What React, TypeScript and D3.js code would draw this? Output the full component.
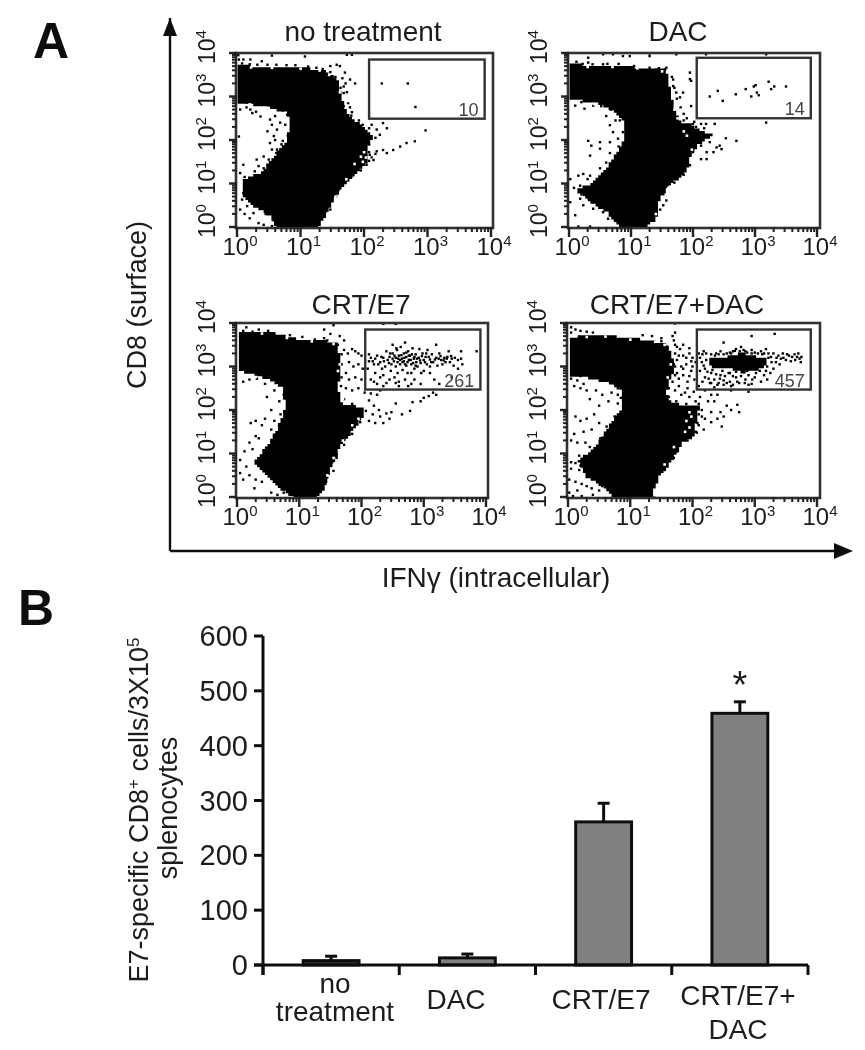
import React from "react";
import * as d3 from "d3";

type P = [number, number];

// ---------- Panel A: values are [log10 IFNγ, log10 CD8] ----------
const panelTitles = ["no treatment", "DAC", "CRT/E7", "CRT/E7+DAC"];
const gateCounts = ["10", "14", "261", "457"];
const gateBounds: [number, number, number, number][] = [
  [2.08, 3.9, 2.49, 3.85],
  [2.06, 3.9, 2.5, 3.89],
  [2.06, 3.91, 2.47, 3.85],
  [2.07, 3.9, 2.47, 3.85],
];
const logTicks = [1, 10, 100, 1000, 10000];
const tickExponents = ["0", "1", "2", "3", "4"];

const blobNoTreatment: P[] = [[0.01,3.73],[0.31,3.69],[0.68,3.69],[1.05,3.66],[1.41,3.58],[1.6,3.35],[1.65,3],[1.73,2.62],[1.88,2.43],[2.04,2.24],[2.15,2.08],[2.04,1.78],[2.04,1.47],[1.88,1.24],[1.68,0.97],[1.52,0.63],[1.41,0.25],[1.26,-0.02],[0.63,-0.02],[0.52,0.25],[0.26,0.48],[0.1,0.7],[0.08,1.09],[0.37,1.24],[0.58,1.62],[0.76,1.93],[0.84,2.31],[0.79,2.62],[0.42,2.77],[0.01,2.85]];
const blobDac: P[] = [[0.01,3.76],[0.45,3.7],[0.93,3.72],[1.2,3.63],[1.57,3.61],[1.62,3.27],[1.68,2.81],[1.79,2.42],[1.95,2.38],[2.11,2.23],[2.32,2.11],[2.08,1.88],[1.97,1.65],[1.89,1.26],[1.62,0.95],[1.46,0.65],[1.41,0.19],[1.25,-0.02],[0.82,-0.02],[0.61,0.34],[0.34,0.57],[0.12,0.84],[0.34,0.99],[0.55,1.26],[0.71,1.56],[0.87,1.95],[0.9,2.39],[0.76,2.62],[0.44,2.85],[0.01,2.93]];
const blobCrt: P[] = [[0.03,3.79],[0.53,3.79],[0.96,3.64],[1.6,3.56],[1.66,3.21],[1.63,2.47],[1.68,2.16],[2.03,2.04],[2.05,1.89],[1.87,1.54],[1.66,1.16],[1.5,0.63],[1.39,0.17],[1.28,-0.02],[0.91,-0.02],[0.64,0.24],[0.43,0.55],[0.27,0.82],[0.48,1.16],[0.64,1.54],[0.78,2.08],[0.72,2.53],[0.48,2.72],[0.08,2.88],[0.03,2.88]];
const blobCrtDac: P[] = [[0.03,3.68],[0.56,3.72],[1.1,3.64],[1.58,3.53],[1.68,3.21],[1.71,2.91],[1.63,2.69],[1.58,2.38],[1.68,2.15],[2.11,2.08],[2.06,1.77],[2.03,1.39],[1.84,1.24],[1.68,0.85],[1.47,0.47],[1.36,0.09],[1.42,-0.02],[0.72,-0.02],[0.61,0.18],[0.29,0.47],[0.16,0.85],[0.4,1.08],[0.61,1.54],[0.88,2.08],[0.88,2.46],[0.67,2.61],[0.35,2.73],[0.03,2.76]];
const denseGateCrtDac: P[] = [[2.27,3.2],[2.54,3.22],[2.8,3.32],[3.2,3.16],[3.14,2.95],[2.8,2.85],[2.54,2.98],[2.3,2.98]];

const eventsNoTreatment: P[] = [[2.28,3.3],[2.69,3.3],[2.81,2.76],[2.97,2.22],[2.8,1.97],[2.67,1.93],[2.57,1.85],[2.46,1.77],[2.36,1.7],[2.3,1.77],[2.2,1.74],[2.09,1.66],[2.15,1.54],[2.04,1.43],[2.12,1.6],[2.18,1.68],[1.68,3.23],[1.78,3.39],[1.86,3.3],[1.57,3.73],[1.47,3.7],[1.62,3.7],[1.7,3.55],[1.66,3.42],[1.73,3.1],[1.71,3.3],[1.73,3.96],[1.81,3.96],[1.07,3.92],[0.55,3.94],[0.39,3.81],[0.21,3.85],[0.1,3.85],[0.02,3.95],[0.03,3.85],[2.3,2.39],[2.36,2.27],[2.2,2.24],[2.25,2.12],[2.12,2.35],[0.24,2.62],[0.37,2.54],[0.52,2.47],[0.63,2.24],[0.58,2.09],[0.52,1.93],[0.63,1.78],[0.42,1.62],[0.31,1.55],[0.34,1.4],[0.1,1.43],[0.05,1.24],[0.05,2.7],[0.03,2.08],[0.21,2.7],[0.79,2.58],[0.76,2.35],[0.94,2.12],[0.79,1.7],[0.08,0.63],[0.16,0.48],[0.26,0.32],[0.34,0.09],[0.47,0.4],[0.73,0.28],[1.28,0.09],[1.47,0.4],[1.78,2.75],[1.81,2.64],[1.68,2.78],[1.96,1.74],[2.01,1.62],[1.93,1.55],[0.6,2.55],[0.68,2.4],[0.55,2.35],[0.48,2.2],[0.6,2.0],[0.55,1.78],[0.7,1.9],[0.3,2.65],[0.15,2.75],[0.05,0.4],[0.12,0.3],[0.2,0.2],[0.42,0.05],[0.55,0.02],[0.08,3.76],[0.2,3.74],[0.32,3.73],[0.48,3.73],[0.62,3.73],[0.78,3.72],[0.92,3.72],[1.12,3.69],[1.25,3.66],[1.35,3.63],[1.47,3.56],[1.55,3.45],[1.63,3.2],[1.68,3.08],[1.75,2.85],[1.8,2.56],[1.92,2.45],[1.98,2.35],[2.08,2.27],[2.18,2.05],[2.08,1.9],[2.08,1.72],[2.08,1.52],[1.95,1.3],[1.8,1.15],[1.6,0.85],[1.56,0.7],[1.45,0.5],[0.1,0.78],[0.2,0.62],[0.3,0.5],[0.45,0.3],[0.58,0.15],[0.12,1.15],[0.28,1.28],[0.42,1.35],[0.5,1.55],[0.62,1.7],[0.72,1.98],[0.8,2.1],[0.86,2.4],[0.72,2.68],[0.5,2.78],[0.33,2.82],[0.15,2.86]];
const eventsDac: P[] = [[2.27,3],[2.4,3.13],[2.48,2.9],[2.69,3.05],[2.85,3.17],[2.94,3],[2.98,3.23],[3.03,3.09],[3.06,3.03],[3.22,3.34],[3.26,3.17],[3.31,3.23],[3.5,3.23],[3.01,3.26],[2.7,1.98],[2.53,2.04],[3.18,2.4],[2.35,2.37],[2.21,2.37],[2.13,2.37],[2,2.37],[1.95,3.4],[1.97,3.36],[1.95,3.55],[1.97,2.78],[1.73,3.09],[1.84,3.09],[1.79,2.98],[1.68,3.24],[1.68,3.39],[1.57,3.66],[1.55,3.62],[1.41,3.62],[0.55,3.97],[0.71,3.97],[0.31,3.89],[0.87,3.93],[0.98,3.93],[1.3,3.93],[1.3,3.99],[1.73,3.97],[2.21,3.97],[3.18,3.97],[0.31,3.78],[0.55,3.74],[0.31,1.98],[0.36,1.87],[0.34,1.64],[0.5,1.95],[0.5,1.8],[0.66,1.95],[0.66,2.34],[0.71,2.18],[0.79,2.03],[0.87,2.18],[1,2.37],[0.39,2.79],[0.1,2.79],[0.2,2.87],[0.23,1.22],[0.15,1.18],[0.34,1.18],[0.02,1.1],[0.02,0.57],[0.18,0.65],[0.1,0.27],[0.23,0.5],[0.39,0.42],[0.55,0.34],[0.63,0.19],[0.15,0.01],[0.34,0.01],[0.93,0.11],[1.57,0.61],[1.52,0.5],[1.41,0.38],[2.22,1.72],[2.33,1.72],[2.13,1.87],[2.43,1.87],[2.27,1.95],[2.38,1.83],[2.46,1.79],[2.22,1.56],[2.13,1.56],[1.85,2.6],[1.9,2.5],[2.05,2.3],[0.6,2.55],[0.75,2.45],[0.25,2.72],[0.12,3.8],[0.22,3.75],[0.38,3.74],[0.62,3.75],[0.8,3.75],[1.05,3.7],[1.3,3.66],[1.45,3.65],[1.66,3.45],[1.7,3.2],[1.74,2.95],[1.8,2.75],[1.85,2.45],[1.88,2.3],[2.02,2.42],[2.18,2.27],[2.12,2.06],[2,1.72],[1.95,1.42],[1.85,1.2],[1.7,1.02],[1.52,0.75],[1.47,0.4],[0.08,0.9],[0.2,0.75],[0.32,0.65],[0.48,0.5],[0.18,0.95],[0.3,1.1],[0.5,1.35],[0.6,1.48],[0.66,1.7],[0.8,1.85],[0.82,2.45],[0.68,2.7],[0.52,2.78],[0.32,2.92]];
const eventsCrt: P[] = [[2.2,3.05],[2.25,3.25],[2.3,3.1],[2.33,2.95],[2.35,3.2],[2.38,3.0],[2.4,3.35],[2.42,3.15],[2.45,3.22],[2.47,2.9],[2.48,3.05],[2.5,3.3],[2.5,3.5],[2.52,3.12],[2.53,2.75],[2.55,3.2],[2.55,3.0],[2.57,3.38],[2.58,3.1],[2.6,3.25],[2.6,2.65],[2.62,3.05],[2.63,3.45],[2.65,3.18],[2.66,2.92],[2.68,3.3],[2.68,3.12],[2.7,3.55],[2.72,3.22],[2.72,3.02],[2.74,2.85],[2.75,3.35],[2.76,3.15],[2.78,3.25],[2.8,3.05],[2.8,2.6],[2.82,3.42],[2.84,3.18],[2.85,2.95],[2.87,3.28],[2.88,3.1],[2.9,3.0],[2.92,3.2],[2.93,3.4],[2.95,3.08],[2.96,2.85],[2.98,3.3],[3.0,3.15],[3.0,2.9],[3.03,3.22],[3.05,3.05],[3.06,3.38],[3.1,3.16],[3.1,3],[3.13,3.28],[3.15,3.1],[3.17,2.7],[3.2,3.2],[3.2,3.5],[3.22,3.02],[3.25,3.3],[3.28,3.15],[3.3,3.05],[3.33,3.2],[3.35,3.1],[3.38,3.22],[3.4,3.35],[3.42,3.1],[3.45,3.18],[3.48,3.02],[3.5,3.2],[3.55,3.15],[3.6,3.18],[3.62,3.05],[3.6,3.35],[3.85,3.35],[2.12,3.12],[2.1,2.95],[2.15,3.2],[2.15,2.7],[2.22,2.85],[2.3,2.75],[2.25,2.6],[2.45,2.7],[2.7,2.7],[2.85,2.7],[2.35,2.55],[2.6,2.55],[1.72,3.38],[1.78,3.3],[1.85,3.4],[1.9,3.35],[1.95,3.3],[2.0,3.25],[1.8,3.1],[1.87,3.0],[1.95,3.05],[2.02,2.95],[1.75,2.85],[1.8,2.7],[1.9,2.75],[2.0,2.7],[1.75,2.5],[1.85,2.45],[1.95,2.5],[2.05,2.4],[2.15,2.38],[2.25,2.35],[2.3,2.45],[2.12,2.22],[2.2,2.1],[2.28,2.0],[2.18,1.9],[2.3,1.85],[2.4,1.92],[2.45,1.8],[2.12,1.75],[2.22,1.7],[2.35,1.7],[2.48,1.95],[2.55,2.15],[2.65,1.9],[2.78,1.98],[2.82,2.18],[2.95,2.2],[3.0,2.28],[3.08,2.32],[3.15,2.4],[3.2,2.35],[1.65,3.7],[1.5,3.75],[1.4,3.65],[1.55,3.95],[2.35,3.98],[2.55,3.98],[1.4,3.85],[0.15,3.9],[0.25,3.8],[0.5,3.82],[0.85,3.72],[1.72,3.6],[0.1,2.65],[0.2,2.7],[0.32,2.72],[0.45,2.6],[0.62,2.62],[0.8,2.62],[0.75,2.35],[0.6,2.45],[0.48,2.3],[0.68,2.2],[0.55,2.0],[0.45,1.8],[0.6,1.75],[0.7,1.9],[0.4,1.65],[0.3,1.75],[0.22,1.7],[0.55,1.55],[0.3,1.4],[0.2,1.25],[0.25,1.1],[0.35,1.35],[0.12,1.05],[0.05,0.85],[0.15,0.7],[0.05,0.55],[0.2,0.5],[0.3,0.4],[0.1,0.4],[0.4,0.35],[0.28,0.2],[0.55,0.1],[0.65,0.05],[0.75,0.1],[1.42,0.3],[1.55,0.6],[1.6,0.9],
[2.12,3.28],[2.18,3.12],[2.22,3.18],[2.27,3.05],[2.32,3.22],[2.36,3.12],[2.44,3.08],[2.46,3.3],[2.5,3.18],[2.53,3.25],[2.56,3.42],[2.59,3.18],[2.62,3.15],[2.64,3.26],[2.66,3.1],[2.69,3.2],[2.7,3.05],[2.72,3.32],[2.74,3.1],[2.76,3.25],[2.79,3.15],[2.81,3.28],[2.83,3.08],[2.85,3.22],[2.87,3.02],[2.89,3.18],[2.94,3.14],[2.97,3.24],[3.02,3.1],[3.04,3.3],[3.08,3.22],[3.12,3.1],[3.18,3.16],[3.24,3.18],[3.27,3.24],[3.32,3.14],[3.37,3.18],[3.44,3.24],[2.2,2.65],[2.4,2.62],[2.55,2.62],[2.75,2.55],[2.95,2.6],[3.25,2.6],[3.45,2.75],[3.55,2.95],[2.35,2.8],[2.58,2.85],[2.8,2.85],[3.1,2.85],
[0.1,3.82],[0.35,3.85],[0.6,3.75],[0.72,3.7],[1.05,3.68],[1.25,3.62],[1.45,3.6],[1.62,3.5],[1.68,3.28],[1.68,3.05],[1.68,2.75],[1.67,2.55],[1.72,2.25],[1.85,2.14],[2.07,1.98],[1.98,1.72],[1.85,1.45],[1.72,1.2],[1.6,0.98],[1.53,0.8],[1.45,0.45]];
const eventsCrtDac: P[] = [[2.15,3.1],[2.2,2.95],[2.2,2.75],[2.22,3.3],[2.28,2.62],[2.3,2.85],[2.35,2.7],[2.38,3.3],[2.42,2.62],[2.45,2.8],[2.5,3.55],[2.5,2.68],[2.55,3.3],[2.6,2.85],[2.62,2.55],[2.65,3.35],[2.7,2.75],[2.75,2.62],[2.78,3.45],[2.85,3.35],[2.85,2.7],[2.9,2.58],[2.95,3.7],[3.0,2.75],[3.05,3.3],[3.1,2.65],[3.15,2.8],[3.2,3.0],[3.22,3.3],[3.27,3.1],[3.3,2.95],[3.32,3.75],[3.35,3.2],[3.4,3.05],[3.45,3.3],[3.5,3.15],[3.55,3.25],[3.6,3.22],[3.65,3.15],[3.7,3.3],[3.75,3.22],[3.74,3.1],[2.1,2.55],[2.12,2.9],[2.35,2.52],[2.6,2.65],[2.88,2.9],[3.05,3.12],[2.1,3.3],[2.18,3.35],[2.3,3.28],[2.45,3.35],[2.6,3.32],[2.7,3.4],[2.95,3.38],[3.1,3.35],[3.18,3.4],[1.72,3.5],[1.8,3.4],[1.85,3.25],[1.95,3.3],[2.0,3.2],[1.75,3.15],[1.82,3.0],[1.9,3.05],[2.0,3.0],[1.75,2.85],[1.85,2.8],[1.95,2.78],[2.03,2.7],[1.68,2.65],[1.78,2.55],[1.88,2.4],[1.95,2.3],[2.05,2.2],[2.2,2.45],[2.3,2.35],[2.35,2.2],[2.55,2.1],[2.62,2.0],[2.72,2.12],[2.75,1.95],[2.62,2.45],[2.9,2.42],[2.15,2.0],[2.2,1.8],[2.3,1.72],[2.4,1.8],[2.47,1.62],[2.1,1.65],[2.18,1.55],[2.05,1.5],[1.95,1.65],[1.9,1.95],[1.98,1.8],[1.5,2.5],[1.68,3.7],[1.5,3.65],[1.72,3.78],[1.7,3.6],[1.72,3.99],[0.05,3.9],[0.12,3.85],[0.2,3.82],[0.3,3.8],[0.4,3.78],[0.05,3.78],[1.2,3.72],[1.35,3.7],[0.05,2.72],[0.15,2.68],[0.25,2.6],[0.1,2.55],[0.2,2.5],[0.3,2.45],[0.45,2.45],[0.55,2.35],[0.7,2.4],[0.8,2.35],[0.65,2.2],[0.8,2.15],[0.5,2.1],[0.35,2.25],[0.75,2.6],[0.85,2.55],[0.12,1.85],[0.2,1.75],[0.3,1.8],[0.42,1.9],[0.5,1.7],[0.38,1.55],[0.25,1.5],[0.1,1.45],[0.05,1.3],[0.15,1.25],[0.28,1.25],[0.05,0.8],[0.12,0.78],[0.22,0.75],[0.05,0.65],[0.18,0.62],[0.02,0.4],[0.12,0.35],[0.22,0.3],[0.3,0.25],[0.38,0.2],[0.5,0.15],[0.15,0.15],[0.02,0.1],[0.08,0.02],[0.22,0.02],[0.4,0.05],
[2.12,3.2],[2.16,3.28],[2.18,3.02],[2.22,3.15],[2.24,2.88],[2.26,2.72],[2.3,2.62],[2.32,2.92],[2.36,3.25],[2.38,2.82],[2.42,3.28],[2.44,2.72],[2.48,2.9],[2.5,3.28],[2.52,2.78],[2.55,2.62],[2.58,2.85],[2.62,3.3],[2.65,2.78],[2.68,3.36],[2.7,2.88],[2.72,2.65],[2.76,3.35],[2.78,2.78],[2.82,3.38],[2.84,2.62],[2.88,3.32],[2.9,2.8],[2.95,3.3],[2.96,2.7],[3,3.32],[3.02,2.85],[3.08,2.9],[3.12,3.28],[3.18,2.9],[3.22,3.2],[3.26,3.22],[3.3,3.3],[3.34,3.1],[3.38,3.25],[3.42,3.18],[3.46,3.2],[3.52,3.28],[3.58,3.12],[3.64,3.28],[3.68,3.22],[3.72,3.18],[2.16,2.65],[2.4,2.58],[2.5,2.58],[2.65,2.58],[2.95,2.6],[3.2,2.7],[3.25,2.85],[3.15,3.3],[1.75,3.45],[1.85,3.5],[1.95,3.42],[1.78,3.25],[1.9,3.2],[1.98,3.12],[2.05,3.1],[1.72,3],[1.85,2.95],[1.98,2.9],[1.78,2.72],[1.92,2.65],[1.72,2.45],[1.82,2.35],[1.92,2.5],[2.02,2.42],[2.12,2.3],[2.25,2.2],[2.4,2.35],[2.15,1.85],[2.3,1.95],[2.45,1.95],[2.5,1.85],
[1.5,3.58],[1.6,3.42],[1.72,3.3],[1.7,3.05],[1.72,2.8],[1.62,2.5],[1.62,2.3],[1.74,2.2],[1.9,2.14],[2.1,2.14],[2.1,1.9],[2.08,1.7],[2.07,1.48],[1.92,1.3],[1.75,1.05],[1.7,0.9],[1.55,0.62],[0.55,0.25],[0.32,0.5],[0.2,0.72],[0.18,0.95],[0.35,1.15],[0.52,1.35],[0.62,1.62],[0.75,1.85],[0.85,2.28],[0.8,2.5],[0.55,2.7],[0.2,2.78]];
const blobsByPanel = [blobNoTreatment, blobDac, blobCrt, blobCrtDac];
const eventsByPanel = [eventsNoTreatment, eventsDac, eventsCrt, eventsCrtDac];
const holesByPanel: P[][] = [
  [[2.0,1.72],[1.95,1.62],[2.03,1.6],[1.98,1.5],[1.85,1.45],[1.75,2.9],[1.62,3.1],[1.45,3.5],[1.3,3.6],[1,3.64],[0.55,3.66],[0.22,3.67],[0.5,2.74],[0.2,2.82],[1.72,1.1],[1.55,0.7],[1.43,0.32]],
  [[2.05,1.7],[2.0,1.6],[1.98,1.78],[1.9,2.1],[1.85,2.2],[1.75,2.5],[1.7,2.7],[1.5,3.58],[1.1,3.65],[0.7,3.68],[0.3,3.68],[0.4,2.83],[0.7,2.6],[1.6,0.9],[1.5,0.7],[1.4,0.3]],
  [[1.65,3.05],[1.62,2.9],[1.7,2.25],[1.95,1.8],[1.85,1.65],[1.55,3.52],[1.2,3.58],[0.8,3.66],[0.4,3.76],[0.3,2.76],[1.7,1.3],[1.55,0.9],[1.45,0.5]],
  [[1.95,1.95],[1.98,1.85],[1.9,1.75],[1.95,1.6],[1.88,1.5],[1.6,2.75],[1.65,3.05],[1.55,3.5],[1.4,3.57],[1,3.62],[0.6,3.69],[0.3,3.68],[0.3,2.7],[0.6,2.6],[1.7,1.15],[1.55,0.75]],
];

// ---------- Panel B ----------
const categories = ["no treatment", "DAC", "CRT/E7", "CRT/E7+ DAC"];
const meanValues = [8, 13, 261, 459];
const errorTops = [16, 20, 295, 480];
const yTicks = [0, 100, 200, 300, 400, 500, 600];

const ink = "#1c1c1c";
const FONT = "'Liberation Sans', Arial, sans-serif";

function cellsPath(poly: P[], x: (v: number) => number, y: (v: number) => number, step: number) {
  // stairs on a channel grid, so the edge has the coarse look of a dot plot
  const pts: P[] = poly.map(([a, b]) => [x(a), y(b)]);
  const xs = pts.map((p) => p[0]);
  const ys = pts.map((p) => p[1]);
  const [x0, x1] = d3.extent(xs) as [number, number];
  const [y0, y1] = d3.extent(ys) as [number, number];
  let d = "";
  for (let cy = y0; cy < y1; cy += step) {
    let run: number | null = null;
    for (let cx = x0; cx <= x1 + step; cx += step) {
      const inside = d3.polygonContains(pts, [cx + step / 2, cy + step / 2]);
      if (inside && run === null) run = cx;
      if (!inside && run !== null) {
        d += `M${run.toFixed(1)} ${cy.toFixed(1)}H${cx.toFixed(1)}V${(cy + step).toFixed(1)}H${run.toFixed(1)}Z`;
        run = null;
      }
    }
  }
  return d;
}

function FlowPanel({ index, left, right, top, bottom, frameRight }: { index: number; left: number; right: number; top: number; bottom: number; frameRight: number }) {
  const xLog = d3.scaleLog().domain([1, 10000]).range([left, right]);
  const yLog = d3.scaleLog().domain([1, 10000]).range([bottom, top]);
  const x = (d: number) => xLog(Math.pow(10, d));
  const y = (d: number) => yLog(Math.pow(10, d));
  const ticks = xLog.ticks();
  const gate = gateBounds[index];
  const clipId = `plot-${index}`;
  return (
    <g>
      <clipPath id={clipId}>
        <rect x={left - 1} y={top} width={frameRight - left + 1} height={bottom - top + 1} />
      </clipPath>
      <g clipPath={`url(#${clipId})`}>
        <path d={cellsPath(blobsByPanel[index], x, y, 2.6)} fill="#000" />
        {index === 3 && <path d={cellsPath(denseGateCrtDac, x, y, 2.6)} fill="#000" />}
        {eventsByPanel[index].map(([a, b], i) => (
          <rect key={i} x={x(a) - 1.2} y={y(b) - 1.2} width={2.4} height={2.4} fill="#000" />
        ))}
        {holesByPanel[index].map(([a, b], i) => (
          <rect key={i} x={x(a) - 1.2} y={y(b) - 1.2} width={2.6} height={2.6} fill="#fff" />
        ))}
      </g>
      <rect x={left - 1} y={top} width={frameRight - left + 1} height={bottom - top + 1} fill="none" stroke="#333" strokeWidth={2.6} />
      <rect x={x(gate[0])} y={y(gate[3])} width={x(gate[1]) - x(gate[0])} height={y(gate[2]) - y(gate[3])} fill="none" stroke="#333" strokeWidth={2.4} />
      <text x={x(gate[1]) - 6} y={y(gate[2]) - 3} textAnchor="end" fontSize={18} fill="#444" fontFamily={FONT}>
        {gateCounts[index]}
      </text>
      {ticks.map((t, i) => {
        const major = logTicks.includes(t);
        return (
          <g key={i} stroke="#222">
            <line x1={xLog(t)} x2={xLog(t)} y1={bottom} y2={bottom + (major ? 10 : 5)} strokeWidth={major ? 2.4 : 2} />
            <line x1={left - (major ? 8 : 5)} x2={left} y1={yLog(t)} y2={yLog(t)} strokeWidth={major ? 2.4 : 2} />
          </g>
        );
      })}
      {logTicks.map((t, i) => (
        <text key={`x${i}`} x={xLog(t) + 3} y={bottom + 28} textAnchor="middle" fontSize={24} fill={ink} fontFamily={FONT}>
          10<tspan fontSize={15} dy={-9}>{tickExponents[i]}</tspan>
        </text>
      ))}
      {logTicks.map((t, i) => (
        <text key={`y${i}`} transform={`translate(${left - 22},${yLog(t) - 6}) rotate(-90)`} textAnchor="middle" fontSize={23} fill={ink} fontFamily={FONT}>
          10<tspan fontSize={15} dy={-9}>{tickExponents[i]}</tspan>
        </text>
      ))}
    </g>
  );
}

export default function App() {
  const barX = d3.scaleBand<string>().domain(categories).range([263, 808]).paddingInner(0.59).paddingOuter(0.295);
  const barY = d3.scaleLinear().domain([0, 600]).range([965, 636]);
  const boundaries = barX.domain().map((_, i) => 263 + i * barX.step()).concat([808]);
  const bw = barX.bandwidth();
  return (
    <svg width={865} height={1050} style={{ position: "absolute", left: 0, top: 0, display: "block", background: "#fff" }} fontFamily={FONT}>
      <defs>
        <filter id="soft" x="0" y="0" width="100%" height="100%">
          <feGaussianBlur stdDeviation={0.7} />
        </filter>
      </defs>
      <g filter="url(#soft)">
        <rect width={865} height={1050} fill="#fff" />
        <text x={33} y={58} fontSize={50} fontWeight="bold" fill="#111">A</text>
        <text x={18} y={625} fontSize={50} fontWeight="bold" fill="#111">B</text>

        <path d="M170 551V18" stroke="#111" strokeWidth={2.4} fill="none" />
        <path d="M163 36L170 18L177 36Z" fill="#111" />
        <path d="M170 551H834" stroke="#111" strokeWidth={2.4} fill="none" />
        <path d="M834 543L853 551L834 559Z" fill="#111" />

        <text x={363} y={41} textAnchor="middle" fontSize={28} fill={ink}>{panelTitles[0]}</text>
        <text x={678} y={41} textAnchor="middle" fontSize={28} fill={ink}>{panelTitles[1]}</text>
        <text x={361} y={314} textAnchor="middle" fontSize={28} fill={ink}>{panelTitles[2]}</text>
        <text x={677} y={314} textAnchor="middle" fontSize={28} fill={ink}>{panelTitles[3]}</text>

        <FlowPanel index={0} left={237} right={491} top={53} bottom={227} frameRight={493} />
        <FlowPanel index={1} left={569} right={817} top={53} bottom={227} frameRight={820} />
        <FlowPanel index={2} left={237} right={486} top={323} bottom={497} frameRight={488} />
        <FlowPanel index={3} left={568} right={817} top={323} bottom={497} frameRight={820} />

        <text transform="translate(146,305) rotate(-90)" textAnchor="middle" fontSize={27} fill={ink}>CD8 (surface)</text>
        <text x={496} y={587} textAnchor="middle" fontSize={28} fill={ink}>IFNγ (intracellular)</text>

        <text transform="translate(148,810) rotate(-90)" textAnchor="middle" fontSize={27} fill={ink}>
          E7-specific CD8<tspan fontSize={17} dy={-9}>+</tspan><tspan dy={9}> cells/3X10</tspan><tspan fontSize={17} dy={-9}>5</tspan>
        </text>
        <text transform="translate(177,808) rotate(-90)" textAnchor="middle" fontSize={27} fill={ink}>splenocytes</text>

        {categories.map((c, i) => {
          const bx = barX(c)!;
          const cx = bx + bw / 2;
          return (
            <g key={c}>
              <line x1={cx} x2={cx} y1={barY(meanValues[i])} y2={barY(errorTops[i])} stroke="#111" strokeWidth={3} />
              <line x1={cx - 6} x2={cx + 6} y1={barY(errorTops[i])} y2={barY(errorTops[i])} stroke="#111" strokeWidth={3} />
              <rect x={bx} y={barY(meanValues[i])} width={bw} height={barY(0) - barY(meanValues[i])} fill={meanValues[i] < 10 ? "#333" : "#808080"} stroke="#111" strokeWidth={3} />
            </g>
          );
        })}
        <line x1={263} x2={263} y1={636} y2={975} stroke="#111" strokeWidth={3} />
        <line x1={254} x2={808} y1={965} y2={965} stroke="#111" strokeWidth={3} />
        {yTicks.map((t) => (
          <g key={t}>
            <line x1={254} x2={263} y1={barY(t)} y2={barY(t)} stroke="#111" strokeWidth={3} />
            <text x={248} y={barY(t) + 10} textAnchor="end" fontSize={29} fill={ink}>{t}</text>
          </g>
        ))}
        {boundaries.map((b, i) => (
          <line key={i} x1={b} x2={b} y1={965} y2={975} stroke="#111" strokeWidth={3} />
        ))}
        <text x={335} y={993} textAnchor="middle" fontSize={28} fill={ink}>no</text>
        <text x={335} y={1021} textAnchor="middle" fontSize={28} fill={ink}>treatment</text>
        <text x={456} y={1009} textAnchor="middle" fontSize={28} fill={ink}>DAC</text>
        <text x={601} y={1009} textAnchor="middle" fontSize={28} fill={ink}>CRT/E7</text>
        <text x={738} y={1005} textAnchor="middle" fontSize={28} fill={ink}>CRT/E7+</text>
        <text x={738} y={1039} textAnchor="middle" fontSize={28} fill={ink}>DAC</text>
        <text x={740} y={698} textAnchor="middle" fontSize={38} fill={ink}>*</text>
      </g>
    </svg>
  );
}
